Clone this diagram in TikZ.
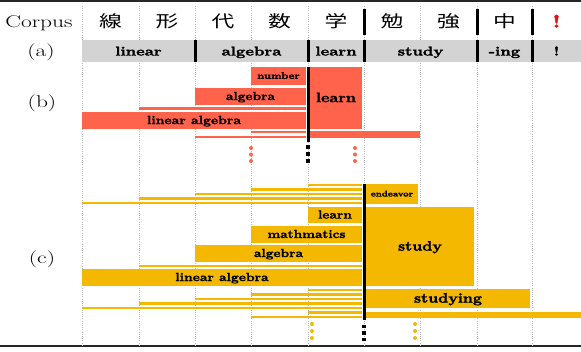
\documentclass[tikz,border=0pt]{standalone}
\usepackage{fontspec}
\newfontfamily\cjk{Noto Sans CJK JP}
% heavier bold for the token labels
\newfontfamily\heavy[FakeBold=1.6]{lmroman10-bold.otf}
\definecolor{segred}{RGB}{255,99,75}
\definecolor{segyel}{RGB}{245,184,0}
\definecolor{band}{RGB}{211,211,211}
\definecolor{gridgray}{RGB}{185,185,185}
\definecolor{bang}{RGB}{225,20,20}
% horizontally widened text
\newcommand{\sx}[1]{\scalebox{1.38}[1]{#1}}
\newcommand{\widea}[1]{\scalebox{1.28}[1]{#1}}
\newcommand{\wideb}[1]{\scalebox{1.15}[1]{#1}}
% labelled segment: name, x0, x1, y0, y1, colour, font size, text
\newcommand{\seg}[8]{%
  \fill[#6] (#2,#4) rectangle (#3,#5);
  \node[lab, font=\fontsize{#7}{#7}\selectfont\heavy] (#1) at ({(#2+#3)/2},{(#4+#5)/2+0.3*#7}) {\wideb{#8}};}
% thin strip: x0, x1, y, colour
\newcommand{\strip}[4]{\fill[#4] (#1,{#3-1.1}) rectangle (#2,{#3+1.1});}
\begin{document}
\begin{tikzpicture}[x=1pt,y=-1pt,
  lab/.style={inner sep=0pt, anchor=base},
  gridline/.style={gridgray, line width=0.6pt, dash pattern=on 1pt off 1.2pt},
  sepbar/.style={black, line width=3pt},
  bandtext/.style={lab, font=\fontsize{12.8}{12.8}\selectfont\heavy},
  rowtag/.style={lab, font=\fontsize{17}{17}\selectfont},
  glyph/.style={lab, font=\fontsize{16.5}{16.5}\selectfont\cjk}]
\useasboundingbox (0,0) rectangle (581,351);

% rules
\fill[black!85] (0,0) rectangle (581,2.2);
\draw[black!85, line width=1.3pt] (0,346) -- (581,346);

% column grid
\foreach \x in {82,139,195,251,308,364,420,477,532}
  \draw[gridline] (\x,6) -- (\x,345);

% corpus row
\node[rowtag] (corpus) at (39,27.5) {\sx{Corpus}};
\foreach \x/\c/\n in {110.5/線/c1,167/形/c2,223/代/c3,279.5/数/c4,336/学/c5,392/勉/c6,448.5/強/c7,504.5/中/c8}
  \node[glyph] (\n) at (\x,27.5) {\sx{\c}};
\node[lab, font=\fontsize{18}{18}\selectfont\heavy, text=bang] (c9) at (556.5,27.5) {\sx{!}};
\foreach \x in {364,477,532}
  \draw[sepbar] (\x,9) -- (\x,35);

% row (a): tokens
\node[rowtag] (tagA) at (41,56) {\sx{(a)}};
\fill[band] (82,40) rectangle (581,62);
\node[bandtext] (tLinear) at (138.5,55.5) {\widea{linear}};
\node[bandtext] (tAlgebra) at (251.5,55.5) {\widea{algebra}};
\node[bandtext] (tLearn) at (336,55.5) {\widea{learn}};
\node[bandtext] (tStudy) at (420.5,55.5) {\widea{study}};
\node[bandtext] (tIng) at (504.5,55.5) {\widea{-ing}};
\node[bandtext] (tBang) at (556.5,55.5) {\widea{!}};
\foreach \x in {195,308,364,477,532}
  \draw[sepbar] (\x,40) -- (\x,62);

% row (b)
\node[rowtag] (tagB) at (42,107) {\sx{(b)}};
\seg{bNumber}{251}{306}{67}{85}{segred}{9.6}{number}
\seg{bLearn}{310}{362}{67}{129}{segred}{13.8}{learn}
\seg{bAlgebra}{195}{306}{88}{105}{segred}{11.7}{algebra}
\strip{139}{306}{108.5}{segred}
\seg{bLinAlg}{82}{306}{112}{129}{segred}{11.9}{linear algebra}
\strip{251}{306}{132}{segred}
\strip{195}{306}{137}{segred}
\fill[segred] (310,131) rectangle (420,138);
\draw[sepbar] (308,67) -- (308,142);
\foreach \y in {147,154,161}
  \fill ({306.2},{\y-1.8}) rectangle ({309.8},{\y+1.8});
\foreach \x in {251,355}
  \foreach \y in {148,154.5,161}
    \fill[segred] (\x,\y) circle (2pt);

% row (c)
\node[rowtag] (tagC) at (42,263) {\sx{(c)}};
\foreach \x/\y in {308/185,251/189.5,195/194,139/198.5,82/203}
  \strip{\x}{362}{\y}{segyel}
\seg{cEndeavor}{366}{418}{184}{204}{segyel}{8.2}{endeavor}
\seg{cLearn}{308}{362}{207}{223}{segyel}{11.7}{learn}
\seg{cMath}{251}{362}{226}{243}{segyel}{11.6}{mathmatics}
\seg{cAlgebra}{195}{362}{245}{262}{segyel}{11.7}{algebra}
\strip{139}{362}{266}{segyel}
\seg{cLinAlg}{82}{362}{269}{286}{segyel}{11.8}{linear algebra}
\seg{cStudy}{366}{474}{207}{286}{segyel}{13.7}{study}
\foreach \x/\y in {308/290,251/294.5,195/299,139/303.5,82/308,308/312.5,251/317}
  \strip{\x}{362}{\y}{segyel}
\seg{cStudying}{366}{530}{289}{308}{segyel}{13.7}{studying}
\fill[segyel] (366,312) rectangle (581,318);
\draw[sepbar] (364,184) -- (364,320);
\foreach \y in {326.5,333,339.5}
  \fill ({362.2},{\y-1.8}) rectangle ({365.8},{\y+1.8});
\foreach \x in {312,415}
  \foreach \y in {324,331,338}
    \fill[segyel] (\x,\y) circle (2pt);
\end{tikzpicture}
\end{document}
